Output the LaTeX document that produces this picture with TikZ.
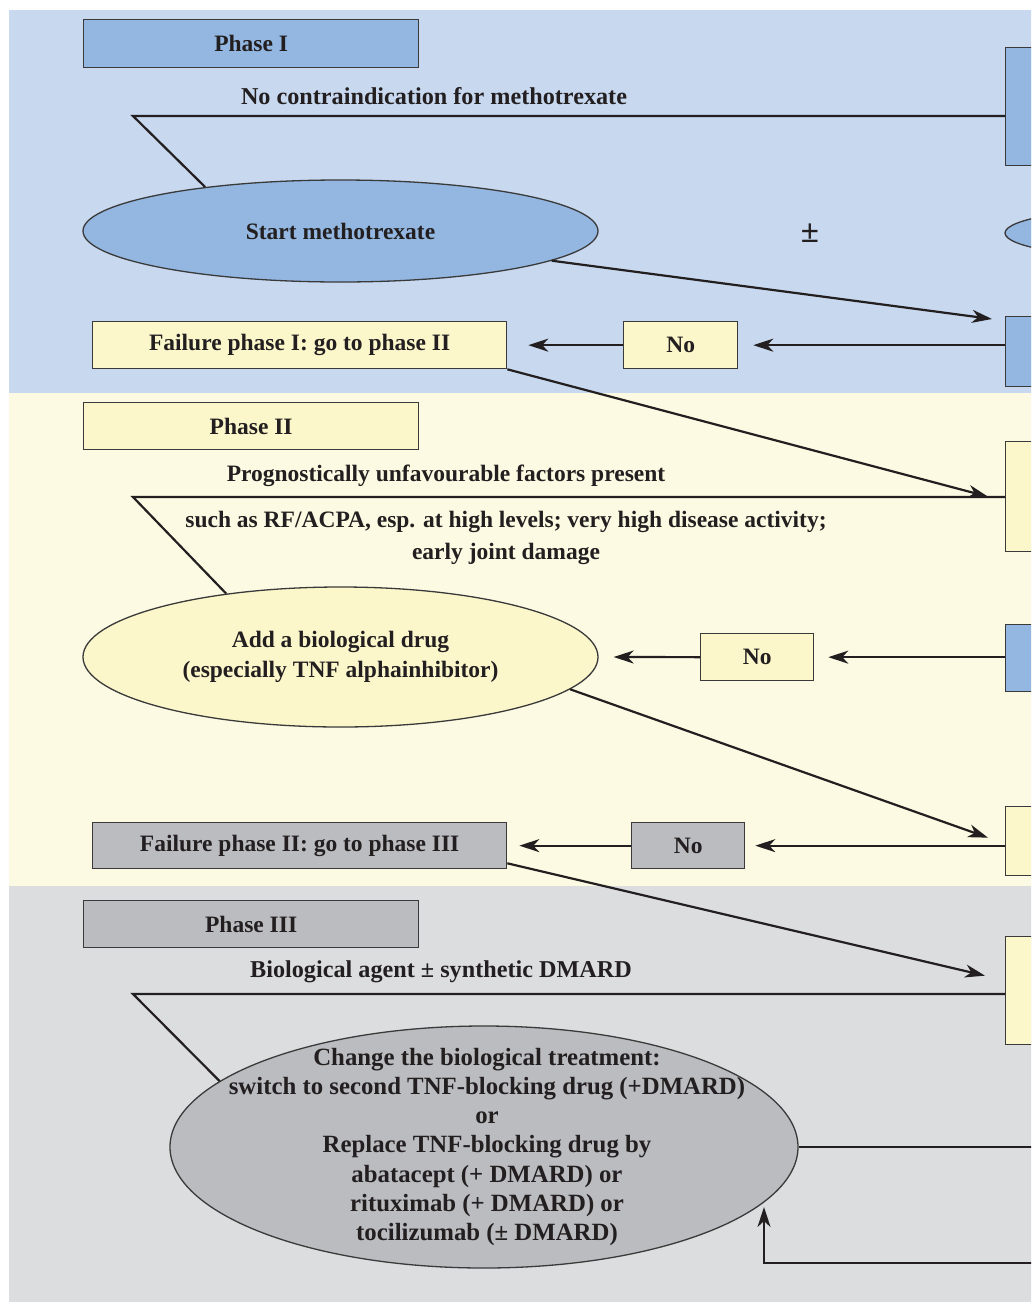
\documentclass[tikz,border=0pt]{standalone}
\usepackage{fontspec}
\setmainfont{Liberation Serif}
\usetikzlibrary{shapes.geometric,arrows.meta}
\definecolor{bandblue}{HTML}{C7D8EF}
\definecolor{bandyellow}{HTML}{FCFAE2}
\definecolor{bandgray}{HTML}{DCDDDF}
\definecolor{boxblue}{HTML}{93B7E1}
\definecolor{boxyellow}{HTML}{FBF7CA}
\definecolor{boxgray}{HTML}{BBBCBF}
\definecolor{edge}{HTML}{3A3A3A}
\definecolor{ink}{HTML}{231F20}
\begin{document}
\begin{tikzpicture}[x=1pt,y=-1pt,
  every node/.style={font=\fontsize{23.5}{29.5}\selectfont\bfseries, text=ink},
  box/.style={draw=edge, line width=1.3pt, inner sep=0pt, anchor=north west, rectangle},
  ell/.style={draw=edge, line width=1.3pt, inner sep=0pt, ellipse},
  lbl/.style={inner sep=0pt, align=center},
  conn/.style={draw=ink, line width=2.2pt},
  arr/.style={conn, -{Stealth[length=20pt,width=13pt,inset=6pt]}}]
\useasboundingbox (0,0) rectangle (1031,1304);
\begin{scope}
\clip (0,0) rectangle (1031,1304);
% bands
\fill[bandblue] (9,10) rectangle (1040,393);
\fill[bandyellow] (9,393) rectangle (1040,886);
\fill[bandgray] (9,886) rectangle (1040,1302);

% ---------------- Phase I
\node[box, fill=boxblue, minimum width=335pt, minimum height=48pt] (ph1) at (83,19) {Phase I};
\node[lbl, font=\fontsize{24.2}{29.5}\selectfont\bfseries] (lbl1) at (434,96) {No contraindication for methotrexate};
\coordinate (k1) at (133,116);
\node[ell, fill=boxblue, minimum width=515pt, minimum height=102pt] (e1) at (340.5,231) {Start methotrexate};
\node[lbl, font=\fontsize{33}{33}\selectfont\bfseries] (pm) at (810,233) {±};
\node[box, fill=boxblue, minimum width=100pt, minimum height=118pt] (r1) at (1005,47) {};
\node[ell, fill=boxblue, minimum width=310pt, minimum height=51pt] (e4) at (1160,233) {};
\node[box, fill=boxblue, minimum width=100pt, minimum height=70pt] (r2) at (1005,316) {};
\node[box, fill=boxyellow, minimum width=114pt, minimum height=47pt] (no1) at (623,321) {No};
\node[box, fill=boxyellow, minimum width=414pt, minimum height=47pt] (f1) at (92,321) {Failure phase I: go to phase II};

\draw[conn] (e1.162.4) -- (k1) -- (k1 -| r1.west);
\draw[arr] (e1.-8.75) -- ([shift={(-13pt,-3pt)}]r2.north west);
\draw[arr] (r2.west |- no1.east) -- ([xshift=15pt]no1.east);
\draw[arr] (no1.west) -- ([xshift=21pt]f1.east);

% ---------------- Phase II
\node[box, fill=boxyellow, minimum width=335pt, minimum height=47pt] (ph2) at (83,402) {Phase II};
\node[lbl] (lbl2) at (446,476) {Prognostically unfavourable factors present};
\coordinate (k2) at (133,497);
\node[lbl, font=\fontsize{23.5}{32}\selectfont\bfseries] (lbl3) at (506,538) {such as RF/ACPA, esp. at high levels; very high disease activity;\\ early joint damage};
\node[box, fill=boxyellow, minimum width=100pt, minimum height=110pt] (r3) at (1005,441) {};
\node[ell, fill=boxyellow, minimum width=515pt, minimum height=140pt, align=center] (e2) at (340.5,657) {Add a biological drug\\ (especially TNF alphainhibitor)};
\node[box, fill=boxblue, minimum width=100pt, minimum height=67pt] (r4) at (1005,624) {};
\node[box, fill=boxyellow, minimum width=113pt, minimum height=47pt] (no2) at (700,633) {No};
\node[box, fill=boxyellow, minimum width=100pt, minimum height=69pt] (r5) at (1005,806) {};
\node[box, fill=boxgray, minimum width=113pt, minimum height=46pt] (no3) at (631,822) {No};
\node[box, fill=boxgray, minimum width=414pt, minimum height=46pt] (f2) at (92,822) {Failure phase II: go to phase III};

\draw[arr] (f1.south east) -- ([xshift=-17pt]r3.west);
\draw[conn] (e2.151.6) -- (k2) -- (k2 -| r3.west);
\draw[arr] (r4.west |- no2.east) -- ([xshift=14pt]no2.east);
\draw[arr] (no2.west) -- ([xshift=15pt]e2.east);
\draw[arr] (e2.-8.25) -- ([shift={(-17pt,3.5pt)}]r5.west);
\draw[arr] (r5.west |- no3.east) -- ([xshift=10pt]no3.east);
\draw[arr] (no3.west) -- ([xshift=12pt]f2.east);

% ---------------- Phase III
\node[box, fill=boxgray, minimum width=335pt, minimum height=47pt] (ph3) at (83,900) {Phase III};
\node[lbl, font=\fontsize{24.2}{29.5}\selectfont\bfseries] (lbl4) at (441,972) {Biological agent ± synthetic DMARD};
\coordinate (k3) at (133,994);
\node[box, fill=boxyellow, minimum width=100pt, minimum height=108pt] (r6) at (1005,936) {};
\node[ell, fill=boxgray, minimum width=628pt, minimum height=242pt] (e3) at (484,1147) {};
\node[lbl, font=\fontsize{24.8}{29.3}\selectfont\bfseries] (e3t) at (487,1147) {Change the biological treatment:\\ switch to second TNF-blocking drug (+DMARD)\\ or\\ Replace TNF-blocking drug by\\ abatacept (+ DMARD) or\\ rituximab (+ DMARD) or\\ tocilizumab (± DMARD)};
\coordinate (out1) at (1040,1149);
\coordinate (out2) at (1040,1263);
\coordinate (tip3) at (764,1207);

\draw[arr] ([yshift=6pt]f2.south east) -- ([shift={(-20pt,15pt)}]r6.west);
\draw[conn] (e3.166.6) -- (k3) -- (k3 -| r6.west);
\draw[conn] (e3.east) -- (e3.east -| out1);
\draw[arr] (out2) -| (tip3);
\end{scope}
\end{tikzpicture}
\end{document}
